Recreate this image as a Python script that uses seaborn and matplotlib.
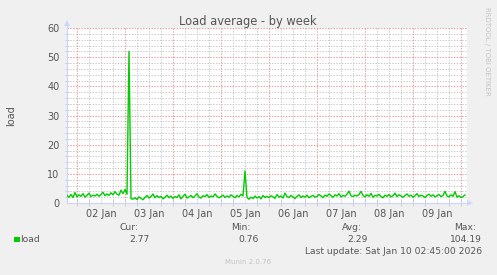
import numpy as np
import pandas as pd
import matplotlib
matplotlib.use("Agg")
import matplotlib.pyplot as plt
import matplotlib.dates as mdates
from matplotlib.patches import Rectangle
import seaborn as sns

# ---------------- data (hourly) ----------------
start_time = "2026-01-01 19:00"
load_values = [
    2.6, 2.0, 2.9, 1.9, 3.6,
    2.1, 2.8, 2.3, 3.2, 2.0, 2.6, 3.4, 2.2, 2.7, 2.4, 3.0, 2.3, 2.9, 3.7, 2.5, 3.1, 2.6, 3.5, 2.8, 3.9, 3.0, 2.7, 4.4, 3.2,
    4.6, 3.0,
    52.0,
    1.5, 1.3, 1.8, 1.2, 2.1, 1.6, 1.1, 1.9, 2.6, 1.7, 2.2, 3.1, 1.8, 2.5, 1.9, 2.3, 1.4, 2.0, 2.7, 1.8, 2.4,
    1.6, 2.2, 1.9, 2.8, 1.4, 2.3, 3.0, 1.7, 2.1, 2.6, 1.8, 2.4, 3.2, 2.0, 1.7, 2.5, 2.2, 2.9, 1.9, 2.4, 2.1, 3.1, 2.3, 1.8,
    2.2, 2.7, 1.9, 2.4, 2.0, 2.8, 2.3, 1.8, 2.6, 2.1, 3.0, 2.4, 11.0, 1.9, 1.3, 2.0, 1.5, 2.4, 1.7, 2.2, 1.4, 2.6, 1.9, 2.3,
    1.8, 2.5, 2.1, 1.6, 2.9, 2.0, 2.4, 1.7, 3.4, 2.2, 1.9, 2.6, 2.1, 1.5, 2.3, 2.8, 1.9, 2.4, 2.0, 2.7, 1.8, 2.3, 2.6, 2.0,
    2.2, 2.9, 2.4, 1.9, 2.7, 2.3, 3.1, 2.5, 2.0, 2.8, 2.4, 3.2, 2.1, 2.6, 2.3, 3.0, 4.1, 2.5, 2.2, 2.7, 2.4, 2.9, 4.0, 2.6,
    2.1, 2.8, 2.3, 3.3, 2.0, 2.6, 2.4, 3.0, 2.2, 1.8, 2.7, 2.3, 2.9, 2.1, 2.5, 3.4, 2.2, 2.8, 2.4, 2.0, 2.6, 3.1, 2.3, 2.7,
    2.0, 2.5, 3.2, 2.2, 2.7, 2.4, 1.9, 2.6, 3.0, 2.3, 2.8, 2.1, 2.5, 2.9, 2.2, 2.6, 4.0, 2.4, 2.1, 2.8, 2.3, 3.9, 2.0, 2.5,
    1.9, 2.2, 2.77,
]
day_labels = ["02 Jan", "03 Jan", "04 Jan", "05 Jan", "06 Jan", "07 Jan", "08 Jan", "09 Jan"]
y_ticks = [0, 10, 20, 30, 40, 50, 60]
title = "Load average - by week"
series_name = "load"
stat_names = ["Cur:", "Min:", "Avg:", "Max:"]
stat_values = ["2.77", "0.76", "2.29", "104.19"]
last_update = "Last update: Sat Jan 10 02:45:00 2026"
footer = "Munin 2.0.76"
side_text = "RRDTOOL / TOBI OETIKER"

times = pd.date_range(start_time, periods=len(load_values), freq="h")
df = pd.DataFrame({"time": times, "load": load_values})

# ---------------- styling ----------------
W, H = 497, 275
BG = "#f0f0f0"
FONT = "#555555"
AXIS = "#cfd6f8"
GREEN = "#00cc00"
MINOR = "#cccccc"
MAJOR = "#f09a9a"

fig = plt.figure(figsize=(W / 100, H / 100), dpi=100, facecolor=BG)


def fx(x):
    return x / W


def fy(y):
    return 1 - y / H


ax = fig.add_axes([fx(67), 1 - 203 / H, 400 / W, 175 / H])
ax.set_facecolor("white")

sns.lineplot(data=df, x="time", y="load", ax=ax, color=GREEN, linewidth=1.0, zorder=5)

x0 = times[0]
x1 = times[0] + pd.Timedelta(hours=200)
ax.set_xlim(x0, x1)
ax.set_ylim(0, 60)

# grid lines
dash = (0, (1.4, 1.4))
six_hours = pd.date_range("2026-01-01 18:00", "2026-01-10 03:00", freq="6h")
for t in six_hours:
    if t < x0 or t > x1:
        continue
    col = MAJOR if t.hour == 0 else MINOR
    ax.axvline(t, color=col, lw=0.72, linestyle=dash, zorder=1)
for v in np.arange(2, 61, 2):
    col = MAJOR if v % 10 == 0 else MINOR
    ax.axhline(v, color=col, lw=0.72, linestyle=dash, zorder=1)

# ticks & labels
noon = pd.date_range("2026-01-02 12:00", periods=len(day_labels), freq="D")
ax.set_xticks(noon)
ax.set_xticklabels(day_labels)
ax.xaxis.set_minor_locator(mdates.HourLocator(byhour=[0, 6, 12, 18]))
ax.set_yticks(y_ticks)
ax.set_yticklabels([str(v) for v in y_ticks])
ax.yaxis.set_minor_locator(matplotlib.ticker.MultipleLocator(2))
ax.tick_params(axis="both", which="major", length=0, labelsize=7, labelcolor=FONT)
ax.tick_params(axis="x", which="major", pad=4.5)
ax.tick_params(axis="y", which="major", pad=5.5)
ax.tick_params(axis="x", which="minor", length=4, direction="inout", width=0.72, color=MINOR)
ax.tick_params(axis="y", which="minor", length=3, direction="inout", width=0.72, color=MINOR)
fig.canvas.draw()
for tk in ax.xaxis.get_minor_ticks():
    loc = mdates.num2date(tk.get_loc())
    if loc.hour == 0:
        tk.tick1line.set_color(MAJOR)
for tk in ax.yaxis.get_minor_ticks():
    if abs(tk.get_loc() % 10) < 1e-6:
        tk.tick1line.set_color(MAJOR)

ax.set_xlabel("")
ax.set_ylabel("")
for s in ["top", "right"]:
    ax.spines[s].set_visible(False)
for s in ["left", "bottom"]:
    ax.spines[s].set_color(AXIS)
    ax.spines[s].set_linewidth(0.9)
ax.spines["left"].set_bounds(0, 61)
ax.plot([0], [1.03], marker="^", ms=4.5, color=AXIS, transform=ax.transAxes, clip_on=False, mew=0)
ax.plot([1.008], [0], marker=">", ms=4.5, color=AXIS, transform=ax.transAxes, clip_on=False, mew=0)

# texts
fig.text(fx(248), fy(21), title, ha="center", va="center", fontsize=8.3, color=FONT)
fig.text(fx(11), fy(116), series_name, ha="center", va="center", rotation=90, fontsize=7, color=FONT)
fig.text(fx(487), fy(51), side_text, ha="center", va="center", rotation=270, fontsize=5, color="#c4c4c4")

name_x = [139, 251, 362, 476]
val_x = [150, 259, 368, 482]
for nm, vx, val, vvx in zip(stat_names, name_x, stat_values, val_x):
    fig.text(fx(vx), fy(227), nm, ha="right", va="center", fontsize=6.6, color=FONT)
    fig.text(fx(vvx), fy(239.3), val, ha="right", va="center", fontsize=6.6, color=FONT)

fig.patches.append(Rectangle((fx(14), fy(242.3)), 5.5 / W, 5.6 / H, transform=fig.transFigure,
                             facecolor=GREEN, edgecolor="none"))
fig.text(fx(20), fy(239.3), series_name, ha="left", va="center", fontsize=6.6, color=FONT)
fig.text(fx(482), fy(251), last_update, ha="right", va="center", fontsize=6.6, color=FONT)
fig.text(fx(248), fy(262.5), footer, ha="center", va="center", fontsize=5, color="#c4c4c4")

fig.savefig("out.png", dpi=100, facecolor=BG)
